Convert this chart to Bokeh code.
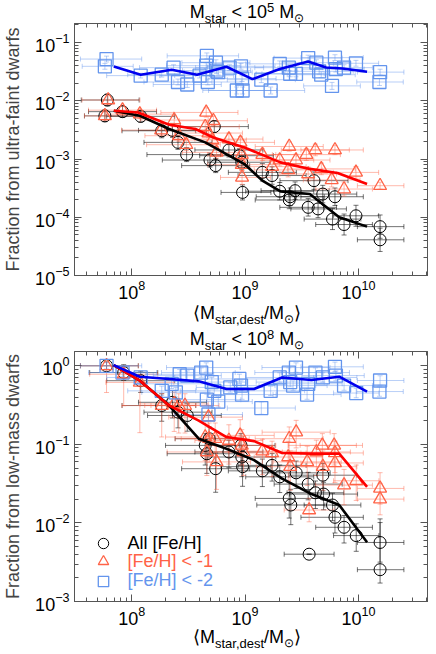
import numpy as np
from bokeh.plotting import figure
from bokeh.models import (ColumnDataSource, Whisker, TeeHead, LogAxis, LogTicker,
                          Legend, LegendItem, Range1d, CustomJSTickFormatter, Div)
from bokeh.core.properties import value
from bokeh.layouts import column
from bokeh.embed import file_html
from bokeh.resources import INLINE

FONT = "Liberation Sans"

# ---------------- data: top panel (M_star < 1e5) ----------------
top_black_x = [6.1e7, 5.8e7, 8.3e7, 1.2e8, 1.84e8, 2.29e8, 2.56e8, 3.05e8, 4.9e8, 5.35e8,
               5.5e8, 7.2e8, 8.9e8, 9.35e8, 9.5e8, 1.42e9, 1.73e9, 2.02e9, 2.45e9, 2.5e9,
               2.76e9, 3.6e9, 4.05e9, 4.4e9, 4.84e9, 5.9e9, 6.2e9, 7.46e9, 9.5e9, 1.55e10,
               1.55e10]
top_black_y = [1.03e-2, 5.5e-3, 6.5e-3, 5.4e-3, 3.05e-3, 3.1e-3, 1.93e-3, 1.19e-3, 9.6e-4, 3.6e-3,
               7.7e-4, 1.43e-3, 1.14e-3, 8.8e-4, 2.67e-4, 5.9e-4, 5.2e-4, 2.8e-4, 1.98e-4, 2.25e-4,
               2.86e-4, 1.48e-4, 4.25e-4, 1.39e-4, 2.5e-4, 9.3e-5, 2.25e-4, 7.5e-5, 1.06e-4, 6.9e-5,
               4.1e-5]
top_black_xm = [0.23, 0.18, 0.30, 0.30, 0.35, 0.30, 0.30, 0.35, 0.42, 0.30,
                0.30, 0.30, 0.35, 0.30, 0.19, 0.30, 0.30, 0.30, 0.30, 0.30,
                0.30, 0.25, 0.30, 0.24, 0.30, 0.25, 0.30, 0.25, 0.20, 0.20,
                0.20]
top_black_xp = [0.28, 0.31, 0.30, 0.30, 0.30, 0.30, 0.30, 0.30, 0.25, 0.30,
                0.30, 0.30, 0.30, 0.25, 0.25, 0.30, 0.30, 0.30, 0.30, 0.30,
                0.30, 0.25, 0.30, 0.25, 0.30, 0.25, 0.25, 0.25, 0.20, 0.21,
                0.21]
top_black_ye = [0.10, 0.10, 0.10, 0.10, 0.12, 0.12, 0.12, 0.12, 0.12, 0.10,
                0.12, 0.12, 0.12, 0.12, 0.13, 0.15, 0.15, 0.15, 0.15, 0.15,
                0.15, 0.15, 0.15, 0.15, 0.15, 0.18, 0.15, 0.18, 0.18, 0.20,
                0.20]

top_red_x = [6.2e7, 5.8e7, 8.3e7, 1.18e8, 1.82e8, 2.37e8, 2.61e8, 3.03e8, 4.54e8, 4.45e8,
             4.75e8, 5.25e8, 5.14e8, 5.6e8, 7.2e8, 9.1e8, 9.35e8, 9.35e8, 9.4e8, 1.42e9,
             1.73e9, 2.02e9, 2.45e9, 2.4e9, 2.81e9, 3.47e9, 4.16e9, 3.6e9, 4.7e9, 5.8e9,
             6.2e9, 7.46e9, 9.5e9, 1.55e10]
top_red_y = [1.03e-2, 5.5e-3, 6.9e-3, 5.9e-3, 3.14e-3, 4.67e-3, 2.51e-3, 1.76e-3, 6.3e-3, 3.58e-3,
             2.79e-3, 4.54e-3, 2.12e-3, 1.3e-3, 2.2e-3, 1.93e-3, 1.19e-3, 8.0e-4, 4.83e-4, 1.19e-3,
             7.4e-4, 9.6e-4, 1.64e-3, 6.5e-4, 9.6e-4, 1.19e-3, 1.43e-3, 5.53e-4, 6.76e-4, 4.37e-4,
             1.43e-3, 3.05e-4, 5.89e-4, 3.48e-4]
top_red_xm = [0.23, 0.18, 0.30, 0.30, 0.35, 0.30, 0.30, 0.35, 0.40, 0.30,
              0.30, 0.30, 0.35, 0.30, 0.30, 0.30, 0.30, 0.30, 0.19, 0.30,
              0.30, 0.30, 0.30, 0.30, 0.30, 0.30, 0.30, 0.25, 0.30, 0.25,
              0.30, 0.25, 0.20, 0.20]
top_red_xp = [0.28, 0.31, 0.30, 0.30, 0.30, 0.30, 0.30, 0.30, 0.28, 0.30,
              0.30, 0.30, 0.30, 0.25, 0.30, 0.30, 0.30, 0.30, 0.25, 0.30,
              0.30, 0.30, 0.30, 0.30, 0.30, 0.30, 0.30, 0.25, 0.30, 0.25,
              0.25, 0.25, 0.20, 0.21]
top_red_ye = [0.08, 0.08, 0.08, 0.08, 0.10, 0.08, 0.10, 0.10, 0.08, 0.08,
              0.08, 0.08, 0.10, 0.10, 0.10, 0.10, 0.10, 0.10, 0.12, 0.10,
              0.10, 0.10, 0.08, 0.12, 0.10, 0.10, 0.10, 0.12, 0.10, 0.12,
              0.08, 0.12, 0.10, 0.06]

top_blue_x = [6.0e7, 5.8e7, 1.2e8, 1.84e8, 2.34e8, 2.56e8, 3.09e8, 3.97e8, 4.6e8, 4.54e8,
              4.69e8, 5.53e8, 5.79e8, 5.6e8, 7.3e8, 9.2e8, 9.4e8, 8.45e8, 9.5e8, 1.39e9,
              1.68e9, 2.02e9, 2.43e9, 2.5e9, 2.81e9, 3.6e9, 4.25e9, 4.5e9, 4.69e9, 5.84e9,
              6.2e9, 6.31e9, 7.46e9, 9.5e9, 1.55e10, 1.53e10]
top_blue_y = [0.052, 0.039, 0.027, 0.028, 0.037, 0.021, 0.019, 0.027, 0.059, 0.040,
              0.021, 0.045, 0.031, 0.033, 0.037, 0.039, 0.024, 0.015, 0.015, 0.023,
              0.015, 0.043, 0.037, 0.029, 0.029, 0.054, 0.045, 0.032, 0.028, 0.018,
              0.055, 0.035, 0.037, 0.044, 0.031, 0.021]
top_blue_xm = [0.23, 0.20, 0.30, 0.30, 0.30, 0.30, 0.30, 0.35, 0.35, 0.35,
               0.30, 0.30, 0.30, 0.30, 0.30, 0.30, 0.30, 0.30, 0.30, 0.30,
               0.30, 0.30, 0.30, 0.30, 0.30, 0.30, 0.30, 0.30, 0.30, 0.25,
               0.30, 0.30, 0.25, 0.20, 0.20, 0.20]
top_blue_xp = [0.31, 0.25, 0.30, 0.30, 0.30, 0.30, 0.30, 0.30, 0.28, 0.30,
               0.30, 0.30, 0.30, 0.30, 0.30, 0.30, 0.30, 0.30, 0.30, 0.30,
               0.30, 0.30, 0.30, 0.30, 0.30, 0.30, 0.30, 0.30, 0.30, 0.25,
               0.25, 0.25, 0.25, 0.20, 0.21, 0.21]
top_blue_ye = [0.05, 0.05, 0.04, 0.04, 0.05, 0.05, 0.05, 0.04, 0.05, 0.05,
               0.05, 0.05, 0.05, 0.05, 0.05, 0.05, 0.05, 0.06, 0.06, 0.05,
               0.06, 0.05, 0.05, 0.05, 0.05, 0.05, 0.05, 0.05, 0.05, 0.06,
               0.05, 0.05, 0.05, 0.05, 0.05, 0.06]

top_black_line_x = [6.95e7, 1.18e8, 2.14e8, 4.45e8, 9.86e8, 1.42e9, 2.05e9, 3.72e9, 6.76e9, 1.19e10]
top_black_line_y = [6.73e-3, 5.53e-3, 3.27e-3, 1.93e-3, 8.2e-4, 4.25e-4, 2.78e-4, 2.51e-4, 1.0e-4, 6.9e-5]
top_red_line_x = [6.95e7, 1.14e8, 2.14e8, 3.65e8, 5.25e8, 9.86e8, 2.05e9, 3.72e9, 6.53e9, 1.19e10]
top_red_line_y = [6.73e-3, 6.3e-3, 3.87e-3, 3.27e-3, 2.34e-3, 1.58e-3, 8.75e-4, 6.76e-4, 5.76e-4, 3.72e-4]
top_blue_line_x = [6.95e7, 1.2e8, 2.25e8, 3.77e8, 6.85e8, 1.16e9, 2.02e9, 3.6e9, 5.18e9, 7.21e9, 1.19e10]
top_blue_line_y = [0.0387, 0.0279, 0.034, 0.0279, 0.0383, 0.0235, 0.035, 0.0472, 0.0373, 0.0358, 0.0314]

# ---------------- data: bottom panel (M_star < 1e8) ----------------
bot_black_x = [6.0e7, 8.5e7, 1.2e8, 1.84e8, 2.29e8, 2.56e8, 3.09e8, 4.45e8, 4.6e8, 4.82e8,
               5.5e8, 7.2e8, 9.2e8, 9.5e8, 9.35e8, 1.42e9, 1.73e9, 2.02e9, 2.45e9, 2.53e9,
               2.82e9, 3.6e9, 3.67e9, 4.17e9, 4.85e9, 4.92e9, 5.9e9, 6.2e9, 7.46e9, 9.55e9,
               1.55e10, 1.55e10]
bot_black_y = [1.0, 0.82, 0.646, 0.312, 0.343, 0.257, 0.233, 0.097, 0.076, 0.118,
               0.049, 0.08, 0.097, 0.052, 0.069, 0.046, 0.054, 0.0386, 0.0205, 0.0169,
               0.0434, 0.0312, 0.004, 0.0242, 0.0405, 0.0233, 0.0169, 0.0118, 0.0088, 0.0069,
               0.00564, 0.00254]
bot_black_xm = [0.23, 0.30, 0.30, 0.35, 0.30, 0.30, 0.35, 0.35, 0.35, 0.30,
                0.30, 0.30, 0.30, 0.19, 0.30, 0.30, 0.30, 0.30, 0.30, 0.30,
                0.30, 0.30, 0.22, 0.25, 0.30, 0.30, 0.25, 0.30, 0.25, 0.20,
                0.20, 0.20]
bot_black_xp = [0.28, 0.30, 0.30, 0.30, 0.30, 0.30, 0.30, 0.30, 0.30, 0.30,
                0.30, 0.30, 0.30, 0.25, 0.30, 0.30, 0.30, 0.30, 0.30, 0.30,
                0.30, 0.30, 0.22, 0.25, 0.30, 0.30, 0.25, 0.25, 0.25, 0.20,
                0.21, 0.21]
bot_black_ym = [0.05, 0.10, 0.15, 0.20, 0.20, 0.20, 0.20, 0.25, 0.25, 0.20,
                0.30, 0.20, 0.25, 0.25, 0.25, 0.20, 0.20, 0.20, 0.25, 0.25,
                0.20, 0.20, 0.00, 0.20, 0.20, 0.20, 0.20, 0.20, 0.20, 0.20,
                0.25, 0.17]
bot_black_yp = [0.05, 0.10, 0.12, 0.15, 0.15, 0.15, 0.15, 0.15, 0.15, 0.15,
                0.20, 0.15, 0.15, 0.15, 0.15, 0.15, 0.15, 0.15, 0.20, 0.20,
                0.15, 0.15, 0.00, 0.15, 0.15, 0.15, 0.15, 0.15, 0.15, 0.15,
                0.30, 0.60]

bot_red_x = [6.0e7, 8.5e7, 1.18e8, 1.84e8, 2.37e8, 2.6e8, 2.95e8, 4.45e8, 4.6e8, 4.75e8,
             4.82e8, 5.45e8, 5.6e8, 7.2e8, 9.05e8, 9.35e8, 9.7e8, 1.42e9, 1.73e9, 2.45e9,
             2.4e9, 2.5e9, 2.82e9, 3.53e9, 3.67e9, 4.25e9, 4.8e9, 4.85e9, 6.1e9, 6.2e9,
             6.2e9, 7.46e9, 9.55e9, 1.55e10, 1.55e10]
bot_red_y = [1.0, 0.78, 0.615, 0.312, 0.327, 0.312, 0.312, 0.124, 0.08, 0.222,
             0.118, 0.118, 0.0598, 0.112, 0.13, 0.097, 0.08, 0.082, 0.0777, 0.118,
             0.069, 0.052, 0.143, 0.0598, 0.0146, 0.08, 0.097, 0.052, 0.097, 0.0777,
             0.058, 0.0303, 0.0344, 0.0275, 0.0201]
bot_red_xm = [0.23, 0.30, 0.30, 0.35, 0.30, 0.30, 0.30, 0.35, 0.35, 0.35,
              0.30, 0.30, 0.30, 0.30, 0.30, 0.30, 0.30, 0.30, 0.30, 0.30,
              0.30, 0.30, 0.30, 0.30, 0.22, 0.30, 0.30, 0.30, 0.30, 0.30,
              0.30, 0.25, 0.20, 0.20, 0.20]
bot_red_xp = [0.28, 0.30, 0.30, 0.30, 0.30, 0.30, 0.30, 0.30, 0.30, 0.30,
              0.30, 0.30, 0.30, 0.30, 0.30, 0.30, 0.30, 0.30, 0.30, 0.30,
              0.30, 0.30, 0.30, 0.30, 0.22, 0.30, 0.30, 0.30, 0.25, 0.25,
              0.25, 0.25, 0.20, 0.21, 0.21]
bot_red_ym = [0.34, 0.40, 0.64, 0.40, 0.35, 0.35, 0.35, 0.30, 0.30, 0.25,
              0.30, 0.30, 0.35, 0.30, 0.25, 0.25, 0.30, 0.30, 0.30, 0.30,
              0.30, 0.30, 0.20, 0.30, 0.15, 0.30, 0.25, 0.30, 0.25, 0.25,
              0.25, 0.25, 0.25, 0.20, 0.20]
bot_red_yp = [0.05, 0.10, 0.10, 0.15, 0.15, 0.15, 0.15, 0.20, 0.20, 0.15,
              0.20, 0.20, 0.20, 0.20, 0.20, 0.20, 0.20, 0.15, 0.15, 0.15,
              0.20, 0.20, 0.15, 0.20, 0.15, 0.15, 0.15, 0.20, 0.15, 0.15,
              0.20, 0.20, 0.20, 0.20, 0.20]

bot_blue_x = [6.0e7, 8.3e7, 1.2e8, 1.84e8, 2.25e8, 2.45e8, 2.65e8, 3.09e8, 4.1e8, 4.54e8,
              4.6e8, 4.75e8, 5.08e8, 5.35e8, 5.8e8, 7.4e8, 8.9e8, 9.2e8, 9.4e8, 1.39e9,
              1.68e9, 2.02e9, 2.43e9, 2.5e9, 2.81e9, 2.65e9, 3.6e9, 3.52e9, 4.17e9, 4.85e9,
              6.2e9, 6.32e9, 7.46e9, 9.55e9, 1.55e10, 1.53e10]
bot_blue_y = [1.0, 0.82, 0.71, 0.48, 0.59, 0.46, 0.78, 0.75, 0.82, 0.95,
              0.37, 0.24, 0.62, 0.48, 0.35, 0.53, 0.68, 0.56, 0.43, 0.29,
              0.48, 0.71, 0.82, 0.62, 0.95, 0.56, 0.59, 0.43, 0.82, 0.71,
              0.97, 0.75, 0.56, 0.45, 0.65, 0.47]
bot_blue_xm = [0.23, 0.30, 0.30, 0.30, 0.30, 0.30, 0.30, 0.30, 0.35, 0.35,
               0.35, 0.30, 0.30, 0.30, 0.30, 0.30, 0.30, 0.30, 0.30, 0.30,
               0.30, 0.30, 0.30, 0.30, 0.30, 0.30, 0.30, 0.30, 0.30, 0.30,
               0.30, 0.30, 0.25, 0.20, 0.20, 0.20]
bot_blue_xp = [0.31, 0.30, 0.30, 0.30, 0.30, 0.30, 0.30, 0.30, 0.30, 0.30,
               0.30, 0.30, 0.30, 0.30, 0.30, 0.30, 0.30, 0.30, 0.30, 0.30,
               0.30, 0.30, 0.30, 0.30, 0.30, 0.30, 0.30, 0.30, 0.30, 0.30,
               0.25, 0.25, 0.25, 0.20, 0.21, 0.21]
bot_blue_ye = [0.04, 0.05, 0.06, 0.06, 0.06, 0.06, 0.06, 0.06, 0.06, 0.06,
               0.07, 0.08, 0.06, 0.06, 0.07, 0.06, 0.06, 0.06, 0.06, 0.08,
               0.06, 0.06, 0.06, 0.06, 0.06, 0.06, 0.06, 0.06, 0.06, 0.06,
               0.06, 0.06, 0.06, 0.06, 0.06, 0.06]

bot_black_line_x = [6.93e7, 1.18e8, 2.14e8, 3.9e8, 6.85e8, 1.2e9, 2.12e9, 3.85e9, 6.76e9, 1.19e10]
bot_black_line_y = [1.02, 0.646, 0.312, 0.118, 0.088, 0.063, 0.0367, 0.0233, 0.0169, 0.00569]
bot_red_line_x = [6.93e7, 1.18e8, 2.14e8, 3.9e8, 6.85e8, 1.2e9, 2.12e9, 3.85e9, 6.76e9, 1.19e10]
bot_red_line_y = [1.02, 0.646, 0.312, 0.201, 0.124, 0.110, 0.0777, 0.0762, 0.0762, 0.0288]
bot_blue_line_x = [6.93e7, 1.18e8, 2.14e8, 3.9e8, 6.85e8, 1.2e9, 2.12e9, 3.85e9, 6.76e9, 1.19e10]
bot_blue_line_y = [1.02, 0.726, 0.678, 0.634, 0.507, 0.507, 0.711, 0.659, 0.726, 0.469]

x_range = (3.13e7, 4.06e10)
top_y_range = (1e-5, 0.212)
bot_y_range = (1e-3, 1.52)

legend_labels = ["All [Fe/H]", "[Fe/H] < -1", "[Fe/H] < -2"]

BLACK = "#000000"
RED = "#ff6347"
BLUE = "#6495ed"
RED_LINE = "#ff0000"
BLUE_LINE = "#0000ee"
FRAME = "#555555"

FW, FH = 360, 252
LEFT, RIGHT = 67, 3
PW = LEFT + FW + RIGHT
B1, B2 = 27, 24          # bottom borders (tick labels)
T1H = 23                 # title strip above top panel
T2H = 351 - (T1H + FH + B1)
T3H = 654 - (351 + FH + B2)

SUB = "font-size:13px;position:relative;top:5px"
SUP = "font-size:13px;position:relative;top:-6px"
SUN = "font-size:12px;position:relative;top:4px"


def title_html(exp):
    return (f"M<span style='{SUB}'>star</span> &lt; 10<span style='{SUP}'>{exp}</span> "
            f"M<span style='{SUN}'>\u2299</span>")


XLAB_HTML = (f"\u27e8M<span style='{SUB}'>star,dest</span>/M"
             f"<span style='{SUN}'>\u2299</span>\u27e9")


def line_div(html, top):
    return (f"<div style=\"position:absolute;left:{LEFT}px;width:{FW}px;top:{top}px;"
            f"line-height:18px;text-align:center;white-space:nowrap\">{html}</div>")


def strip(lines, h):
    inner = "".join(line_div(t, top) for t, top in lines)
    html = (f"<div style=\"position:relative;width:{PW}px;height:{h}px;"
            f"font-family:'{FONT}';font-size:18px;color:black\">{inner}</div>")
    return Div(text=html, width=PW, height=h, margin=0)


def style_axis(ax, labels=True):
    ax.ticker = LogTicker(num_minor_ticks=10)
    ax.major_tick_in = 7
    ax.major_tick_out = 0
    ax.minor_tick_in = 4
    ax.minor_tick_out = 0
    ax.axis_line_color = FRAME
    ax.major_tick_line_color = FRAME
    ax.minor_tick_line_color = FRAME
    if labels:
        ax.major_label_text_font = FONT
        ax.major_label_text_font_size = "18px"
        ax.major_label_text_color = "black"
    else:
        ax.formatter = CustomJSTickFormatter(code="return ''")
        ax.major_label_text_font_size = "0px"
        ax.major_label_standoff = 0


def make_panel(yr, ylabel, series, lines, bottom_border):
    p = figure(x_axis_type="log", y_axis_type="log",
               x_range=Range1d(*x_range), y_range=Range1d(*yr),
               width=PW, height=FH + bottom_border,
               min_border_left=LEFT, min_border_right=RIGHT,
               min_border_top=0, min_border_bottom=bottom_border,
               output_backend="svg", toolbar_location=None, margin=0)
    p.xgrid.visible = False
    p.ygrid.visible = False
    p.outline_line_color = FRAME
    p.background_fill_color = "white"
    p.border_fill_color = "white"
    style_axis(p.xaxis[0])
    style_axis(p.yaxis[0])
    p.xaxis.major_label_standoff = 4
    p.yaxis.major_label_standoff = 5
    p.yaxis.axis_label = ylabel
    p.yaxis.axis_label_text_font = FONT
    p.yaxis.axis_label_text_font_size = "18px"
    p.yaxis.axis_label_text_font_style = "normal"
    p.yaxis.axis_label_standoff = 9
    ra = LogAxis()
    style_axis(ra, labels=False)
    p.add_layout(ra, "right")
    ta = LogAxis()
    style_axis(ta, labels=False)
    p.add_layout(ta, "above")

    renderers = []
    for (x, y, xm, xp, ym, yp, marker, color, size, ea, lw) in series:
        x = np.array(x); y = np.array(y)
        src = ColumnDataSource(dict(
            x=x, y=y,
            xl=x * 10 ** (-np.array(xm)), xh=x * 10 ** np.array(xp),
            yl=y * 10 ** (-np.array(ym)), yh=y * 10 ** np.array(yp)))
        for dim, base, lo, hi in (("width", "y", "xl", "xh"), ("height", "x", "yl", "yh")):
            w = Whisker(source=src, base=base, lower=lo, upper=hi, dimension=dim,
                        line_color=color, line_alpha=ea, line_width=1,
                        upper_head=TeeHead(size=5, line_color=color, line_alpha=ea, line_width=1),
                        lower_head=TeeHead(size=5, line_color=color, line_alpha=ea, line_width=1))
            p.add_layout(w)
        r = p.scatter("x", "y", source=src, marker=marker, size=size,
                      fill_color=None, line_color=color, line_width=lw)
        renderers.append(r)
    for (lx, ly, color) in lines:
        p.line(lx, ly, line_color=color, line_width=2.6)
    return p, renderers


p1, _ = make_panel(
    top_y_range, "Fraction from ultra-faint dwarfs",
    [(top_black_x, top_black_y, top_black_xm, top_black_xp, top_black_ye, top_black_ye, "circle", BLACK, 12, 0.55, 1.0),
     (top_red_x, top_red_y, top_red_xm, top_red_xp, top_red_ye, top_red_ye, "triangle", RED, 13, 0.45, 1.3),
     (top_blue_x, top_blue_y, top_blue_xm, top_blue_xp, top_blue_ye, top_blue_ye, "square", BLUE, 13, 0.45, 1.3)],
    [(top_black_line_x, top_black_line_y, BLACK), (top_red_line_x, top_red_line_y, RED_LINE),
     (top_blue_line_x, top_blue_line_y, BLUE_LINE)],
    B1)

p2, rends = make_panel(
    bot_y_range, "Fraction from low-mass dwarfs",
    [(bot_black_x, bot_black_y, bot_black_xm, bot_black_xp, bot_black_ym, bot_black_yp, "circle", BLACK, 12, 0.55, 1.0),
     (bot_red_x, bot_red_y, bot_red_xm, bot_red_xp, bot_red_ym, bot_red_yp, "triangle", RED, 13, 0.45, 1.3),
     (bot_blue_x, bot_blue_y, bot_blue_xm, bot_blue_xp, bot_blue_ye, bot_blue_ye, "square", BLUE, 13, 0.45, 1.3)],
    [(bot_black_line_x, bot_black_line_y, BLACK), (bot_red_line_x, bot_red_line_y, RED_LINE),
     (bot_blue_line_x, bot_blue_line_y, BLUE_LINE)],
    B2)

for r, lab, col, ly in zip(rends, legend_labels, [BLACK, RED, BLUE], [43, 24.7, 5.3]):
    lg = Legend(items=[LegendItem(label=value(lab), renderers=[r])], location=(15.6, ly),
                glyph_width=26, glyph_height=30, label_standoff=12, label_height=20,
                label_text_font=FONT, label_text_font_size="18px", label_text_color=col,
                padding=0, margin=0, spacing=0, background_fill_alpha=0, border_line_alpha=0)
    p2.add_layout(lg)

t1 = strip([(title_html("5"), 3)], T1H)
t2 = strip([(XLAB_HTML, 2), (title_html("8"), T2H - 6 - 15)], T2H)
t3 = strip([(XLAB_HTML, 1)], T3H)

layout = column(t1, p1, t2, p2, t3, spacing=0)
open("out.html", "w").write(file_html(layout, INLINE))
